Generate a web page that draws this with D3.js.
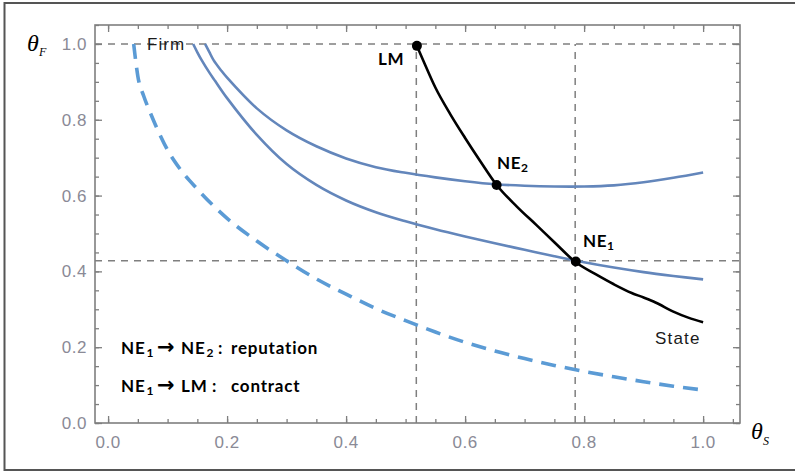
<!DOCTYPE html>
<html><head><meta charset="utf-8">
<script src="https://cdn.jsdelivr.net/npm/d3@7"></script>
<style>
html,body{margin:0;padding:0;background:#fff;}
svg{display:block;}
text{white-space:pre;}
</style></head>
<body>
<svg id="chart" width="795" height="472"></svg>
<script>
// ---- data ----
const xTickValues = [0, 0.2, 0.4, 0.6, 0.8, 1.0];
const xTickLabels = ["0.0", "0.2", "0.4", "0.6", "0.8", "1.0"];
const yTickValues = [0, 0.2, 0.4, 0.6, 0.8, 1.0];
const yTickLabels = ["0.0", "0.2", "0.4", "0.6", "0.8", "1.0"];

// dashed light-blue curve
const dashedX = [0.043, 0.046, 0.05, 0.06, 0.07, 0.08, 0.1, 0.12, 0.15, 0.2, 0.25, 0.3, 0.35, 0.4, 0.45, 0.5, 0.55, 0.6, 0.65, 0.7, 0.75, 0.8, 0.85, 0.9, 0.95, 1.0];
const dashedY = [1.0, 0.96, 0.915, 0.862, 0.822, 0.785, 0.72, 0.672, 0.617, 0.54, 0.48, 0.428, 0.38, 0.34, 0.302, 0.27, 0.24, 0.213, 0.19, 0.17, 0.152, 0.136, 0.122, 0.109, 0.097, 0.087];

// Firm reaction curve (upper, reputation)
const firmUpperX = [0.163, 0.17, 0.177, 0.19, 0.2, 0.25, 0.3, 0.35, 0.4, 0.45, 0.5, 0.55, 0.6, 0.65, 0.7, 0.75, 0.8, 0.85, 0.9, 0.95, 1.0];
const firmUpperY = [1.0, 0.979, 0.958, 0.93, 0.911, 0.83, 0.772, 0.73, 0.698, 0.675, 0.66, 0.648, 0.638, 0.63, 0.626, 0.624, 0.624, 0.627, 0.635, 0.647, 0.661];

// Firm reaction curve (lower)
const firmLowerX = [0.143, 0.15, 0.157, 0.17, 0.18, 0.2, 0.25, 0.3, 0.35, 0.4, 0.45, 0.5, 0.55, 0.6, 0.65, 0.7, 0.75, 0.8, 0.85, 0.9, 0.95, 1.0];
const firmLowerY = [1.0, 0.978, 0.958, 0.925, 0.902, 0.857, 0.76, 0.683, 0.628, 0.587, 0.556, 0.532, 0.511, 0.492, 0.474, 0.457, 0.44, 0.424, 0.41, 0.398, 0.388, 0.379];

// State reaction curve (black)
const stateX = [0.519, 0.53, 0.55, 0.575, 0.6, 0.625, 0.653, 0.687, 0.72, 0.75, 0.786, 0.82, 0.85, 0.88, 0.9, 0.92, 0.95, 0.975, 1.0];
const stateY = [0.995, 0.955, 0.885, 0.815, 0.752, 0.692, 0.628, 0.571, 0.522, 0.477, 0.424, 0.392, 0.366, 0.343, 0.331, 0.318, 0.294, 0.278, 0.266];

// equilibrium points
const pointNames = ["LM", "NE2", "NE1"];
const pointX = [0.519, 0.653, 0.786];
const pointY = [0.995, 0.628, 0.426];

// reference lines
const refVertical = [0.518, 0.785];
const refHorizontal = [1.0, 0.428];

// ---- drawing ----
const svg = d3.select("#chart");
const x = d3.scaleLinear().domain([-0.022, 1.062]).range([95, 740]);
const y = d3.scaleLinear().domain([0, 1.05]).range([423, 25]);

// outer border
svg.append("rect").attr("x", 4.5).attr("y", 3).attr("width", 810).attr("height", 467)
  .attr("fill", "none").attr("stroke", "#555").attr("stroke-width", 2);

const gray = "#7f7f7f";
// reference dashed lines
svg.selectAll("line.rv").data(refVertical).join("line")
  .attr("x1", d => x(d)).attr("x2", d => x(d)).attr("y1", y(0)).attr("y2", y(1.0))
  .attr("stroke", gray).attr("stroke-width", 1.5).attr("stroke-dasharray", "7,6");
svg.selectAll("line.rh").data(refHorizontal).join("line")
  .attr("x1", x.range()[0]).attr("x2", x.range()[1]).attr("y1", d => y(d)).attr("y2", d => y(d))
  .attr("stroke", gray).attr("stroke-width", 1.5).attr("stroke-dasharray", "7,6");

// frame + ticks
const minorX = d3.range(0, 1.051, 0.05);
const minorY = d3.range(0, 1.051, 0.05);
function styleAxis(g) {
  g.select(".domain").remove();
  g.selectAll(".tick line").attr("stroke", gray).attr("stroke-width", 1.3);
}
svg.append("g").attr("transform", `translate(0,${y(0)})`)
  .call(d3.axisBottom(x).tickValues(minorX).tickSize(-4).tickFormat("")).call(styleAxis);
svg.append("g").attr("transform", `translate(0,${y(0)})`)
  .call(d3.axisBottom(x).tickValues(xTickValues).tickSize(-7).tickFormat("")).call(styleAxis);
svg.append("g").attr("transform", `translate(0,${y.range()[1]})`)
  .call(d3.axisTop(x).tickValues(minorX).tickSize(-4).tickFormat("")).call(styleAxis);
svg.append("g").attr("transform", `translate(0,${y.range()[1]})`)
  .call(d3.axisTop(x).tickValues(xTickValues).tickSize(-7).tickFormat("")).call(styleAxis);
svg.append("g").attr("transform", `translate(${x.range()[0]},0)`)
  .call(d3.axisLeft(y).tickValues(minorY).tickSize(-4).tickFormat("")).call(styleAxis);
svg.append("g").attr("transform", `translate(${x.range()[0]},0)`)
  .call(d3.axisLeft(y).tickValues(yTickValues).tickSize(-7).tickFormat("")).call(styleAxis);
svg.append("g").attr("transform", `translate(${x.range()[1]},0)`)
  .call(d3.axisRight(y).tickValues(minorY).tickSize(-4).tickFormat("")).call(styleAxis);
svg.append("g").attr("transform", `translate(${x.range()[1]},0)`)
  .call(d3.axisRight(y).tickValues(yTickValues).tickSize(-7).tickFormat("")).call(styleAxis);

svg.append("rect").attr("x", x.range()[0]).attr("y", y.range()[1])
  .attr("width", x.range()[1] - x.range()[0]).attr("height", y.range()[0] - y.range()[1])
  .attr("fill", "none").attr("stroke", gray).attr("stroke-width", 1.6);

// tick labels
const tickFont = "'Liberation Sans', Arial, sans-serif";
svg.selectAll("text.xt").data(xTickValues).join("text")
  .attr("x", d => x(d)).attr("y", 448).attr("text-anchor", "middle")
  .attr("font-family", tickFont).attr("font-size", 17).attr("letter-spacing", 0.5)
  .attr("fill", "#8a8a96").text((d, i) => xTickLabels[i]);
svg.selectAll("text.yt").data(yTickValues).join("text")
  .attr("x", 87).attr("y", d => y(d) + 6).attr("text-anchor", "end")
  .attr("font-family", tickFont).attr("font-size", 17).attr("letter-spacing", 0.5)
  .attr("fill", "#8a8a96").text((d, i) => yTickLabels[i]);

// curves
const line = d3.line().x(d => x(d[0])).y(d => y(d[1])).curve(d3.curveMonotoneX);
const smooth = d3.line().x(d => x(d[0])).y(d => y(d[1])).curve(d3.curveCatmullRom.alpha(0.5));
const zip = (a, b) => a.map((v, i) => [v, b[i]]);

svg.append("path").datum(zip(dashedX, dashedY)).attr("d", line)
  .attr("fill", "none").attr("stroke", "#5b9bd5").attr("stroke-width", 3.6)
  .attr("stroke-dasharray", "15,9");
svg.append("path").datum(zip(firmUpperX, firmUpperY)).attr("d", smooth)
  .attr("fill", "none").attr("stroke", "#6386bb").attr("stroke-width", 2.6);
svg.append("path").datum(zip(firmLowerX, firmLowerY)).attr("d", smooth)
  .attr("fill", "none").attr("stroke", "#6386bb").attr("stroke-width", 2.6);
svg.append("path").datum(zip(stateX, stateY)).attr("d", line)
  .attr("fill", "none").attr("stroke", "#000").attr("stroke-width", 2.6);

// points
svg.selectAll("circle.pt").data(pointX).join("circle")
  .attr("cx", d => x(d)).attr("cy", (d, i) => y(pointY[i])).attr("r", 5).attr("fill", "#000");

// curve labels
svg.append("text").attr("x", 147).attr("y", 50).attr("font-family", tickFont)
  .attr("font-size", 17).attr("letter-spacing", 1.1).attr("fill", "#1a1a1a").text("Firm");
svg.append("text").attr("x", 655).attr("y", 344).attr("font-family", tickFont)
  .attr("font-size", 17).attr("letter-spacing", 1.2).attr("fill", "#1a1a1a").text("State");

const boldFont = "Lato, 'Open Sans', sans-serif";
function labelWithSub(xp, yp, main, sub) {
  const t = svg.append("text").attr("x", xp).attr("y", yp).attr("font-family", boldFont)
    .attr("font-weight", "bold").attr("font-size", 17).attr("letter-spacing", 0.6).attr("fill", "#000");
  t.append("tspan").text(main);
  if (sub) t.append("tspan").attr("font-size", 12).attr("dy", 3).text(sub);
  return t;
}
labelWithSub(378, 65, "LM", null);
labelWithSub(497, 169, "NE", "2");
labelWithSub(583, 247, "NE", "1");

// annotation lines: each segment placed at its x; subscripts flow after "NE"
function annot(yp, parts) {
  parts.forEach(p => {
    const t = svg.append("text").attr("x", p.x).attr("y", yp)
      .attr("font-family", p.arrow ? "'DejaVu Sans', sans-serif" : boldFont)
      .attr("font-weight", "bold").attr("font-size", p.arrow ? 21 : 17)
      .attr("letter-spacing", p.arrow ? 0 : 0.8).attr("fill", "#000");
    t.append("tspan").text(p.t);
    if (p.sub) t.append("tspan").attr("font-size", 12).attr("dy", 3).attr("dx", 1).text(p.sub);
  });
}
annot(354, [{x:121,t:"NE",sub:"1"},{x:157,t:"\u2192",arrow:true},{x:181,t:"NE",sub:"2"},{x:218,t:":"},{x:231,t:"reputation"}]);
annot(391.5, [{x:121,t:"NE",sub:"1"},{x:157,t:"\u2192",arrow:true},{x:181,t:"LM"},{x:212,t:":"},{x:231,t:"contract"}]);

// axis titles
const serif = "'Liberation Serif', 'Times New Roman', serif";
svg.append("text").attr("x", 27).attr("y", 51).attr("font-family", serif).attr("font-style", "italic")
  .attr("font-size", 24).attr("fill", "#000").text("\u03b8");
svg.append("text").attr("x", 39).attr("y", 56).attr("font-family", serif).attr("font-style", "italic")
  .attr("font-size", 12).attr("fill", "#000").text("F");
svg.append("text").attr("x", 751).attr("y", 439).attr("font-family", serif).attr("font-style", "italic")
  .attr("font-size", 24).attr("fill", "#000").text("\u03b8");
svg.append("text").attr("x", 763).attr("y", 445).attr("font-family", serif).attr("font-style", "italic")
  .attr("font-size", 12).attr("fill", "#000").text("S");
</script>
</body></html>
